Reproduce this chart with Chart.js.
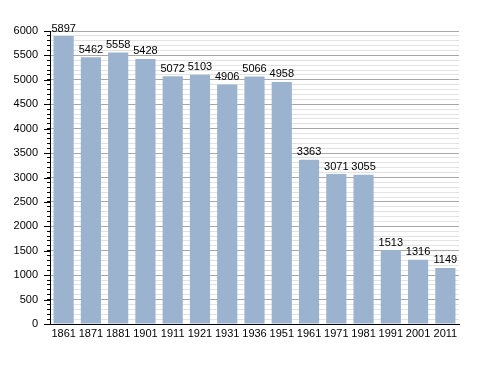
<!DOCTYPE html>
<html><head><meta charset="utf-8">
<script src="https://cdn.jsdelivr.net/npm/chart.js@4"></script>
<style>html,body{margin:0;padding:0;background:#fff}#w{width:488px;height:373px}</style>
</head><body><div id="w"><canvas id="c" width="488" height="373"></canvas></div>
<script>
const years = ['1861','1871','1881','1901','1911','1921','1931','1936','1951','1961','1971','1981','1991','2001','2011'];
const population = [5897,5462,5558,5428,5072,5103,4906,5066,4958,3363,3071,3055,1513,1316,1149];
const yMax = 6000;
const yStep = 100;
const yLabelStep = 500;

const valueLabels = {
  id: 'valueLabels',
  afterDatasetsDraw(chart) {
    const ctx = chart.ctx;
    const meta = chart.getDatasetMeta(0);
    ctx.save();
    ctx.font = '11px "Liberation Sans", Arial, sans-serif';
    ctx.fillStyle = '#000';
    ctx.textAlign = 'center';
    ctx.textBaseline = 'bottom';
    meta.data.forEach((bar, i) => {
      ctx.fillText(String(population[i]), bar.x, bar.y - 2);
    });
    ctx.restore();
  }
};
const majorTicks = {
  id: 'majorTicks',
  afterDraw(chart) {
    const s = chart.scales.y, ctx = chart.ctx;
    ctx.save();
    ctx.strokeStyle = '#000'; ctx.lineWidth = 1;
    for (let v = 0; v <= yMax; v += yLabelStep) {
      const y = Math.round(s.getPixelForValue(v)) + 0.5;
      ctx.beginPath(); ctx.moveTo(s.right - 6, y); ctx.lineTo(s.right, y); ctx.stroke();
    }
    ctx.restore();
  }
};

new Chart(document.getElementById('c'), {
  type: 'bar',
  data: { labels: years, datasets: [{ data: population, backgroundColor: '#9bb3cf', borderWidth: 0, categoryPercentage: 1, barPercentage: 0.74 }] },
  options: {
    responsive: false, animation: false,
    layout: { padding: { left: 0, right: 29, top: 31, bottom: 0 } },
    plugins: { legend: { display: false }, tooltip: { enabled: false } },
    scales: {
      x: {
        grid: { display: false, drawTicks: false },
        border: { display: true, color: '#000', width: 1 },
        ticks: { color: '#000', font: { size: 11, family: '"Liberation Sans", Arial, sans-serif' }, padding: 3, autoSkip: false, maxRotation: 0 },
        afterFit(s) { s.height = 49; }
      },
      y: {
        min: 0, max: yMax,
        grid: {
          color: (c) => (c.tick && c.tick.value % yLabelStep === 0) ? '#a8a8a8' : '#e2e2e2',
          tickColor: '#000', tickLength: 3, drawTicks: true
        },
        border: { display: true, color: '#000', width: 1 },
        ticks: {
          stepSize: yStep, autoSkip: false, maxTicksLimit: 1000,
          color: '#000', font: { size: 11, family: '"Liberation Sans", Arial, sans-serif' }, padding: 9,
          callback: (v) => (v % yLabelStep === 0 ? String(v) : '')
        },
        afterFit(s) { s.width = 50; }
      }
    }
  },
  plugins: [valueLabels, majorTicks]
});
</script></body></html>
